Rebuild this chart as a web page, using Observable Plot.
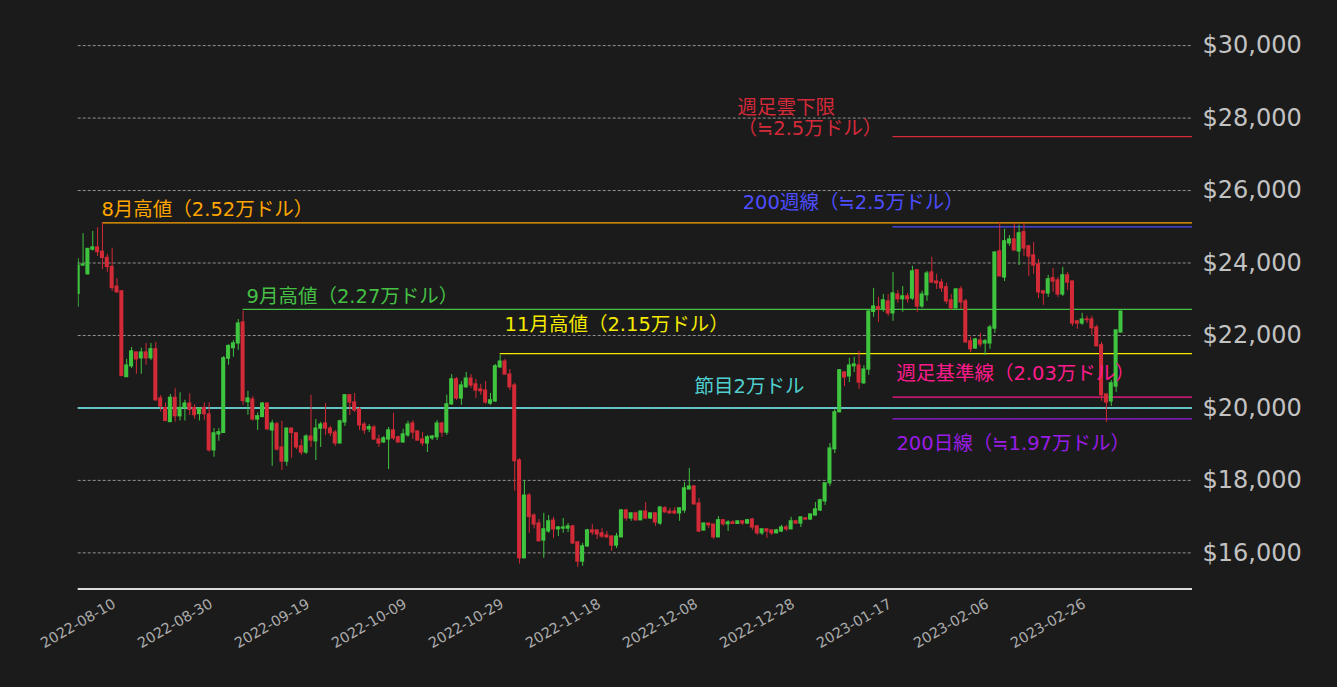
<!DOCTYPE html>
<html>
<head>
<meta charset="utf-8">
<script src="https://cdn.jsdelivr.net/npm/d3@7"></script>
<script src="https://cdn.jsdelivr.net/npm/@observablehq/plot@0.6"></script>
<style>
html, body { margin: 0; padding: 0; background: #1b1b1b; }
#chart svg { display: block; }
</style>
</head>
<body>
<div id="chart"></div>
<script>
// ---- Data (BTC/USD daily, from 2022-08-10) ----
const startDate = "2022-08-10";
const open = [23150,23930,23690,24370,24430,24310,24140,23890,23350,23220,20850,21150,21530,21370,21530,21370,21620,20260,20000,19610,20280,19770,20000,20120,20000,19830,20000,19820,18830,19270,19310,21360,21650,21780,22360,20160,20230,19680,19750,20120,19380,19550,18910,18520,19430,19300,18940,18770,19210,19080,19430,19570,19430,19320,19020,19600,20350,20150,19960,19540,19410,19460,19130,19050,19130,19380,19190,19050,19240,19570,19350,19130,19020,19160,19190,19570,19320,20100,20790,20260,20570,20810,20650,20510,20480,20120,20180,21120,21280,20920,20620,18550,15850,17580,17030,16810,16340,16590,16890,16650,16670,16670,16730,16290,15760,16180,16620,16620,16540,16480,16450,16200,16430,17170,16950,17090,16900,17140,16950,17090,16810,17230,17140,17140,17090,17170,17750,17830,17360,16620,16810,16780,16430,16900,16790,16840,16800,16870,16810,16920,16730,16540,16650,16620,16540,16590,16700,16650,16870,16810,16950,16920,17030,17170,17420,17920,18860,19880,20980,20870,21150,21170,20680,21060,22650,22780,22720,22940,22610,23130,23000,23080,23020,23800,22800,23110,23740,23490,23460,23330,22970,22750,23270,22940,21840,21640,21860,21780,21780,22190,24320,23600,24540,24650,24320,24850,24460,24210,23960,23220,23160,23580,23520,23130,23660,23490,22390,22330,22440,22440,22220,21730,20370,20180,20590,22080];
const high = [24120,24810,24400,24870,24970,25110,24240,24410,23570,23230,21340,21670,21540,21650,21780,21780,21810,20340,20140,20370,20530,20420,20210,20390,20090,20000,20140,20140,19430,19430,21420,21740,21860,22440,22670,20460,20310,19860,20150,20130,19660,19600,19630,19440,19440,19300,19120,19260,20350,19680,19600,20120,19490,19380,19660,20370,20350,20400,20010,19600,19540,19520,19250,19210,19460,19850,19220,19410,19630,19650,19360,19320,19240,19240,19650,19600,20350,20920,20840,20730,20980,20920,20790,20650,20730,20400,21200,21450,21340,21060,20680,18600,18000,17640,17080,16920,17090,17030,16980,16730,16950,16810,16760,16290,16260,16650,16780,16620,16670,16590,16480,16540,17200,17200,17090,17120,17150,17390,17090,17120,17280,17280,17230,17250,17230,17940,18330,17860,17500,16810,16810,16780,17000,16920,16890,16890,16870,16870,16920,16950,16760,16650,16650,16620,16650,16760,16760,16980,16900,16980,16980,17060,17390,17480,17920,19020,19960,21060,20990,21370,21400,21560,21170,22690,23300,23050,23130,23130,23740,23240,23350,23160,23910,23800,23220,23770,24160,23690,23550,23440,23130,23300,23350,23000,21950,21920,22060,21890,22280,24300,25120,24930,24760,25090,25040,25090,24490,24570,24100,23220,23660,23850,23600,23880,23740,23500,22420,22610,22530,22530,22280,21810,20380,20760,22140,22660];
const low = [22780,23910,23660,24330,24180,23820,23740,23220,23170,20870,20840,21090,20930,20930,21180,21310,20180,19890,19640,19610,19610,19640,19640,19790,19690,19640,19660,18780,18640,19080,19310,21180,21400,21590,20070,19800,19640,19380,19730,19380,18390,18810,18270,18390,18610,18850,18690,18720,18910,18550,18910,19240,19210,18940,19020,19490,19790,19880,19380,19270,19320,19100,18910,19020,18300,19100,19020,19020,19190,19130,19090,18940,18770,19100,19100,19190,19240,20070,20210,20070,20540,20540,20260,20350,20100,20070,20150,21090,20910,20480,17700,15690,15840,16540,16660,16310,15850,16540,16400,16450,16540,16560,16230,15600,15630,16150,16480,16370,16400,16400,16040,16120,16420,16870,16870,16870,16890,16920,16920,16730,16760,17090,17080,17060,16870,17090,17750,17310,16560,16590,16670,16370,16420,16730,16590,16800,16790,16760,16780,16620,16480,16480,16400,16480,16530,16560,16590,16640,16780,16700,16900,16900,17030,17140,17310,17830,18740,19870,20590,20700,20980,20510,20650,20900,22500,22360,22640,22530,22390,22890,22640,22890,22970,22640,22750,22940,23460,23270,23190,22860,22690,22740,22720,21780,21530,21620,21670,21450,21620,22060,23630,23490,24460,24320,23930,24180,23630,23690,23020,22830,23050,23190,23050,23080,23240,22250,22170,22280,22330,22000,21700,20180,19600,20040,20430,22080];
const close = [23930,23960,24390,24430,24300,24140,23890,23310,23190,20880,21170,21560,21340,21530,21370,21620,20210,20040,19640,20280,19770,20000,20120,19950,19800,19980,19830,18830,19300,19330,21370,21710,21780,22330,20190,20260,19680,19770,20120,19410,19570,18850,18520,19430,19310,18910,18770,19210,19100,19430,19540,19430,19300,19020,19630,20350,20150,19930,19520,19380,19470,19130,19020,19160,19380,19160,19050,19270,19540,19320,19100,19020,19190,19210,19570,19320,20100,20790,20260,20620,20810,20620,20480,20460,20150,20210,21150,21280,20920,20570,18530,15850,17580,16990,16780,16320,16650,16870,16650,16700,16700,16730,16260,15760,16180,16620,16560,16510,16450,16430,16200,16450,17170,16950,17090,16900,17140,16950,17090,16840,17250,17120,17090,17090,17230,17780,17830,17340,16590,16810,16760,16430,16900,16790,16840,16800,16870,16810,16900,16700,16540,16650,16590,16540,16620,16700,16650,16870,16810,16980,16920,17060,17200,17450,17920,18880,19880,21040,20840,21170,21200,20700,21060,22660,22800,22720,22970,22610,23160,23000,23080,23000,23770,22800,23130,23710,23460,23440,23300,22940,22750,23270,22910,21810,21620,21890,21750,21840,22220,24290,23630,24600,24650,24350,24820,24400,24180,23930,23190,23160,23550,23490,23130,23660,23460,22330,22330,22440,22420,22200,21700,20350,20150,20680,22140,22660];

// x-axis tick labels and y-axis ticks
const xTickLabels = ["2022-08-10","2022-08-30","2022-09-19","2022-10-09","2022-10-29","2022-11-18","2022-12-08","2022-12-28","2023-01-17","2023-02-06","2023-02-26"];
const yTicks = [16000,18000,20000,22000,24000,26000,28000,30000];

// Horizontal reference levels and their annotations
const levelValues = [25110, 22720, 21500, 20000, 25000, 27490, 20300, 19700];
const levelStarts = ["2022-08-15","2022-09-13","2022-11-05","2022-08-10","2023-01-25","2023-01-25","2023-01-25","2023-01-25"];
const labelTexts = ["8月高値（2.52万ドル）","9月高値（2.27万ドル）","11月高値（2.15万ドル）","節目2万ドル","200週線（≒2.5万ドル）","週足雲下限\n（≒2.5万ドル）","週足基準線（2.03万ドル）","200日線（≒1.97万ドル）"];
const labelDates = ["2022-08-14T19:00Z","2022-09-13T17:00Z","2022-11-05T22:00Z","2022-12-15T02:00Z","2022-12-25T00:00Z","2022-12-23T22:00Z","2023-01-25T17:00Z","2023-01-25T17:00Z"];
const labelPrices = [25480, 23080, 22300, 20590, 25670, 28000, 20950, 19020];

// ---- Styles ----
const levelColors = ["#ffa500","#45c045","#f3ea00","#4fd0d0","#4d4dff","#d42a3a","#ff1a8c","#9a1ce6"];
const levelWidths = [1.2,1.2,1.2,2,1.2,1.2,1.2,1.2];
const upColor = "#3fc43f", downColor = "#d22a36";
const bg = "#1b1b1b";

// ---- Build tables ----
const t0 = new Date(startDate + "T00:00Z");
const candles = open.map((o, i) => ({
  date: d3.utcDay.offset(t0, i),
  open: o, high: high[i], low: low[i], close: close[i],
  up: close[i] >= o
}));
const xEnd = new Date("2023-03-27T18:00Z");
const levels = levelValues.map((v, i) => ({value: v, start: new Date(levelStarts[i] + "T00:00Z"), color: levelColors[i], width: levelWidths[i]}));
const labels = labelTexts.map((t, i) => ({text: t, date: new Date(labelDates[i]), price: labelPrices[i], color: levelColors[i]}));

const jpFont = "'DejaVu Sans', 'Noto Sans CJK JP', sans-serif";

const chart = Plot.plot({
  width: 1337,
  height: 687,
  marginLeft: 77.7,
  marginRight: 145,
  marginTop: 27,
  marginBottom: 98.4,
  style: {background: bg, color: "#ccc", fontFamily: "'DejaVu Sans', sans-serif"},
  x: {type: "utc", domain: [t0, xEnd], axis: null},
  y: {domain: [15000, 30500], axis: null},
  marks: [
    // level lines
    Plot.ruleY(levels, {y: "value", x1: "start", x2: () => xEnd, stroke: "color", strokeWidth: "width"}),
    // grid
    Plot.ruleY(yTicks, {y: d => d, stroke: "#a0a0a0", strokeWidth: 0.9, strokeDasharray: "3,2"}),
    // bottom spine
    Plot.ruleY([15000], {stroke: "#dddddd", strokeWidth: 2}),
    // wicks
    Plot.ruleX(candles, {x: "date", y1: "low", y2: "high", stroke: d => d.up ? upColor : downColor, strokeWidth: 1, clip: true}),
    // bodies
    Plot.rect(candles, {
      x1: d => d3.utcHour.offset(d.date, -10),
      x2: d => d3.utcHour.offset(d.date, 10),
      y1: d => Math.min(d.open, d.close),
      y2: d => Math.max(d.open, d.close),
      insetTop: -0.6, insetBottom: -0.6,
      fill: d => d.up ? upColor : downColor,
      clip: true
    }),
    // annotations
    Plot.text(labels, {x: "date", y: "price", text: "text", fill: "color", textAnchor: "start", lineAnchor: "middle", lineHeight: 1.08, fontSize: 19.5, fontFamily: jpFont}),
    // y tick labels (right)
    Plot.text(yTicks, {y: d => d, frameAnchor: "right", dx: 10, textAnchor: "start", text: d => "$" + d3.format(",")(d), fill: "#c2c2c2", fontSize: 24, fontFamily: "'DejaVu Sans', sans-serif"}),
    // x tick labels (rotated, centred on tick)
    Plot.text(xTickLabels, {x: d => new Date(d + "T00:00Z"), frameAnchor: "bottom", dy: 34.5, rotate: -30, textAnchor: "middle", lineAnchor: "middle", text: d => d, fill: "#ababab", fontSize: 14.4, fontFamily: "'DejaVu Sans', sans-serif"})
  ]
});
document.getElementById("chart").appendChild(chart);
</script>
</body>
</html>
